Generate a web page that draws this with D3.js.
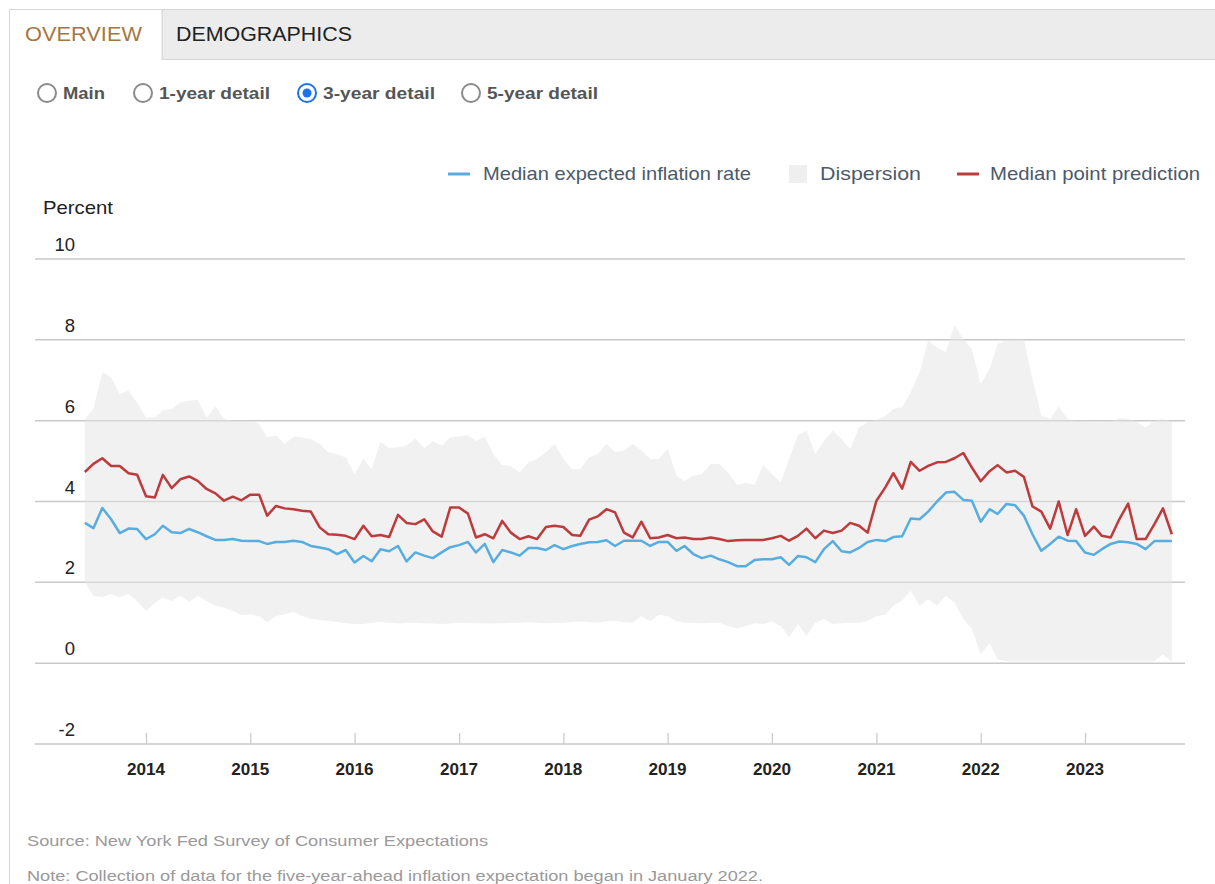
<!DOCTYPE html>
<html>
<head>
<meta charset="utf-8">
<script src="https://cdn.jsdelivr.net/npm/d3@7"></script>
<style>
  body { margin: 0; background: #fff; }
  svg { display: block; font-family: Arial, "Liberation Sans", sans-serif; }
</style>
</head>
<body>
<svg id="chart" width="1215" height="884"></svg>
<script>
// monthly survey, Jun 2013 .. Nov 2023
const startMonth = new Date(2013, 5, 1);

const medianExpected = [
  3.47, 3.34, 3.84, 3.56, 3.22, 3.33, 3.32, 3.07, 3.19, 3.40, 3.24, 3.22,
  3.32, 3.24, 3.14, 3.05, 3.05, 3.07, 3.03, 3.02, 3.02, 2.95, 3.00, 3.00,
  3.03, 3.00, 2.90, 2.86, 2.82, 2.70, 2.80, 2.49, 2.65, 2.52, 2.82, 2.77,
  2.90, 2.52, 2.74, 2.66, 2.60, 2.74, 2.87, 2.92, 3.00, 2.74, 2.95, 2.50,
  2.80, 2.74, 2.66, 2.85, 2.85, 2.80, 2.92, 2.82, 2.90, 2.95, 2.99, 3.00,
  3.04, 2.90, 3.03, 3.03, 3.03, 2.90, 3.00, 3.00, 2.78, 2.90, 2.70, 2.60,
  2.66, 2.57, 2.50, 2.40, 2.40, 2.55, 2.57, 2.57, 2.62, 2.43, 2.65, 2.62,
  2.50, 2.82, 3.02, 2.77, 2.74, 2.85, 3.00, 3.05, 3.02, 3.12, 3.14, 3.58,
  3.56, 3.75, 4.00, 4.22, 4.24, 4.04, 4.02, 3.50, 3.81, 3.69, 3.94, 3.91,
  3.65, 3.19, 2.78, 2.95, 3.13, 3.03, 3.02, 2.74, 2.68, 2.82, 2.95, 3.01,
  2.99, 2.95, 2.82, 3.02, 3.02, 3.02
];

const medianPoint = [
  4.73, 4.93, 5.07, 4.88, 4.88, 4.70, 4.66, 4.13, 4.10, 4.66, 4.33, 4.55,
  4.62, 4.51, 4.31, 4.20, 4.02, 4.12, 4.03, 4.17, 4.17, 3.65, 3.89, 3.83,
  3.81, 3.77, 3.75, 3.36, 3.19, 3.18, 3.15, 3.07, 3.40, 3.14, 3.17, 3.12,
  3.67, 3.47, 3.44, 3.56, 3.26, 3.13, 3.85, 3.85, 3.70, 3.11, 3.19, 3.09,
  3.52, 3.23, 3.07, 3.14, 3.07, 3.37, 3.40, 3.37, 3.17, 3.15, 3.55, 3.63,
  3.81, 3.73, 3.23, 3.11, 3.50, 3.09, 3.11, 3.17, 3.09, 3.11, 3.07, 3.07,
  3.11, 3.07, 3.02, 3.04, 3.05, 3.05, 3.05, 3.09, 3.15, 3.03, 3.15, 3.33,
  3.09, 3.28, 3.22, 3.28, 3.47, 3.40, 3.23, 4.02, 4.35, 4.70, 4.32, 4.98,
  4.76, 4.88, 4.97, 4.98, 5.07, 5.20, 4.84, 4.50, 4.75, 4.90, 4.72, 4.76,
  4.61, 3.88, 3.75, 3.33, 4.00, 3.17, 3.81, 3.15, 3.38, 3.15, 3.11, 3.56,
  3.95, 3.07, 3.07, 3.44, 3.83, 3.19
];

const dispersionHigh = [
  6.04, 6.29, 7.20, 7.07, 6.66, 6.74, 6.45, 6.08, 6.08, 6.25, 6.29, 6.45,
  6.49, 6.52, 6.08, 6.35, 6.04, 6.00, 6.00, 6.00, 5.92, 5.59, 5.64, 5.42,
  5.61, 5.59, 5.54, 5.42, 5.22, 5.17, 5.09, 4.68, 5.05, 4.80, 5.48, 5.32,
  5.34, 5.38, 5.56, 5.31, 5.50, 5.38, 5.59, 5.61, 5.64, 5.50, 5.61, 5.17,
  4.90, 4.88, 4.72, 4.97, 5.05, 5.22, 5.42, 5.05, 4.80, 4.80, 5.09, 5.17,
  5.42, 5.22, 5.26, 5.42, 5.26, 5.05, 5.05, 5.31, 4.64, 4.51, 4.64, 4.68,
  4.93, 4.93, 4.72, 4.41, 4.46, 4.41, 4.90, 4.68, 4.47, 5.05, 5.64, 5.75,
  5.17, 5.50, 5.75, 5.54, 5.30, 5.83, 5.96, 6.02, 6.11, 6.29, 6.33, 6.70,
  7.20, 7.98, 7.81, 7.69, 8.37, 8.02, 7.77, 6.91, 7.28, 7.90, 7.98, 8.00,
  8.00, 7.03, 6.12, 6.04, 6.35, 6.04, 6.00, 6.00, 5.96, 5.96, 5.98, 6.06,
  6.04, 5.98, 5.83, 6.00, 6.04, 5.98
];

const dispersionLow = [
  2.00, 1.67, 1.63, 1.71, 1.63, 1.71, 1.54, 1.29, 1.49, 1.63, 1.54, 1.67,
  1.52, 1.67, 1.54, 1.42, 1.38, 1.29, 1.19, 1.21, 1.16, 1.02, 1.17, 1.21,
  1.27, 1.17, 1.10, 1.07, 1.05, 1.02, 0.99, 0.97, 0.97, 1.00, 1.02, 1.00,
  0.98, 1.00, 1.00, 0.99, 0.98, 0.97, 0.98, 1.00, 1.00, 0.99, 0.98, 0.98,
  0.99, 1.00, 1.00, 1.01, 1.00, 0.99, 1.00, 1.00, 1.02, 1.03, 1.02, 1.00,
  1.04, 1.05, 1.02, 1.00, 1.17, 1.04, 1.19, 1.17, 1.04, 1.00, 1.00, 0.99,
  1.00, 1.00, 0.92, 0.86, 0.92, 0.99, 0.97, 1.04, 0.92, 0.64, 0.97, 0.68,
  1.00, 1.09, 0.97, 0.99, 1.00, 1.00, 1.05, 1.16, 1.21, 1.42, 1.55, 1.79,
  1.42, 1.58, 1.42, 1.67, 1.50, 1.10, 0.85, 0.22, 0.50, 0.10, 0.05, 0.05,
  0.05, 0.05, 0.05, 0.05, 0.05, 0.05, 0.05, 0.05, 0.05, 0.05, 0.05, 0.05,
  0.05, 0.05, 0.05, 0.05, 0.22, 0.03
];

const yTicks = [-2, 0, 2, 4, 6, 8, 10];
const yearTicks = [2014, 2015, 2016, 2017, 2018, 2019, 2020, 2021, 2022, 2023];
const radioLabels = ["Main", "1-year detail", "3-year detail", "5-year detail"];
const selectedRadio = "3-year detail";
const tabLabels = ["OVERVIEW", "DEMOGRAPHICS"];

const blue = "#58ade0";
const red = "#bd3b3c";

const data = medianExpected.map((v, i) => ({
  date: d3.timeMonth.offset(startMonth, i),
  expected: v,
  point: medianPoint[i],
  high: dispersionHigh[i],
  low: dispersionLow[i]
}));

const svg = d3.select("#chart");

// stretch text to the width it takes in the original page
function fit(sel, w) {
  sel.attr("textLength", w).attr("lengthAdjust", "spacingAndGlyphs");
  return sel;
}

// --- tabs
svg.append("line")
  .attr("x1", 9.5).attr("x2", 9.5).attr("y1", 9).attr("y2", 884)
  .attr("stroke", "#d6d6d6");
svg.append("rect")
  .attr("x", 162).attr("y", 9.5).attr("width", 1060).attr("height", 50)
  .attr("fill", "#ececec").attr("stroke", "#d6d6d6");
svg.append("path")
  .attr("d", "M9.5,60 L9.5,9.5 L162,9.5 L162,60")
  .attr("fill", "#fff").attr("stroke", "#d6d6d6");
fit(svg.append("text")
  .attr("x", 25).attr("y", 41)
  .attr("font-size", 20).attr("fill", "#a5773f")
  .text(tabLabels[0]), 117);
fit(svg.append("text")
  .attr("x", 176).attr("y", 41)
  .attr("font-size", 20).attr("fill", "#222")
  .text(tabLabels[1]), 176);

// --- radio buttons
const radioX = [47, 143, 307, 471];
const radioW = [42, 111, 112, 111];
const radio = svg.append("g").selectAll("g")
  .data(radioLabels)
  .join("g")
  .attr("transform", (d, i) => `translate(${radioX[i]},93)`);
radio.append("circle")
  .attr("r", 9)
  .attr("fill", "#fff")
  .attr("stroke", d => d === selectedRadio ? "#1a73e8" : "#8a8a8a")
  .attr("stroke-width", 2);
radio.filter(d => d === selectedRadio).append("circle")
  .attr("r", 4.5).attr("fill", "#1a73e8");
radio.append("text")
  .attr("x", 16).attr("y", 6)
  .attr("font-size", 16.5).attr("font-weight", "bold").attr("fill", "#555")
  .attr("textLength", (d, i) => radioW[i])
  .attr("lengthAdjust", "spacingAndGlyphs")
  .text(d => d);

// --- scales
const x = d3.scaleTime()
  .domain([new Date(2014, 0, 1), new Date(2023, 0, 1)])
  .range([146, 1085]);
const y = d3.scaleLinear().domain([-2, 10]).range([744, 259]);
const gridLeft = 35, gridRight = 1185;

// grid lines
svg.append("g")
  .selectAll("line")
  .data(yTicks)
  .join("line")
  .attr("x1", gridLeft).attr("x2", gridRight)
  .attr("y1", d => y(d)).attr("y2", d => y(d))
  .attr("stroke", "#c9c9c9").attr("stroke-width", 1.5);

svg.append("g")
  .selectAll("text")
  .data(yTicks)
  .join("text")
  .attr("x", 75).attr("y", d => y(d) - 8)
  .attr("text-anchor", "end")
  .attr("font-size", 18.5).attr("fill", "#222")
  .text(d => d);

fit(svg.append("text")
  .attr("x", 43).attr("y", 214)
  .attr("font-size", 18.5).attr("fill", "#222")
  .text("Percent"), 70);

// dispersion band
const band = d3.area()
  .x(d => x(d.date))
  .y0(d => y(d.low))
  .y1(d => y(d.high));
svg.append("path")
  .datum(data)
  .attr("d", band)
  .attr("fill", "#e4e4e4")
  .attr("fill-opacity", 0.5);

// lines
const lineExpected = d3.line().x(d => x(d.date)).y(d => y(d.expected));
const linePoint = d3.line().x(d => x(d.date)).y(d => y(d.point));
svg.append("path")
  .datum(data)
  .attr("d", lineExpected)
  .attr("fill", "none").attr("stroke", blue).attr("stroke-width", 2.5)
  .attr("stroke-linejoin", "round");
svg.append("path")
  .datum(data)
  .attr("d", linePoint)
  .attr("fill", "none").attr("stroke", red).attr("stroke-width", 2.5)
  .attr("stroke-linejoin", "round");

// x axis
const xAxis = svg.append("g")
  .attr("transform", `translate(0,${y(-2)})`)
  .call(d3.axisTop(x)
    .tickValues(yearTicks.map(yr => new Date(yr, 0, 1)))
    .tickSize(11)
    .tickFormat(() => ""));
xAxis.select(".domain").remove();
xAxis.selectAll(".tick line").attr("stroke", "#c9c9c9").attr("stroke-width", 1.2);

svg.append("g")
  .selectAll("text")
  .data(yearTicks)
  .join("text")
  .attr("x", d => x(new Date(d, 0, 1)))
  .attr("y", 775)
  .attr("text-anchor", "middle")
  .attr("font-size", 16).attr("font-weight", "bold").attr("fill", "#222")
  .attr("textLength", 38).attr("lengthAdjust", "spacingAndGlyphs")
  .text(d => d);

// legend
const legend = svg.append("g").attr("font-size", 19).attr("fill", "#4b5a6b");
legend.append("line")
  .attr("x1", 448).attr("x2", 470).attr("y1", 174).attr("y2", 174)
  .attr("stroke", blue).attr("stroke-width", 3);
fit(legend.append("text").attr("x", 483).attr("y", 180).text("Median expected inflation rate"), 268);
legend.append("rect")
  .attr("x", 789).attr("y", 165).attr("width", 18).attr("height", 18)
  .attr("fill", "#efefef");
fit(legend.append("text").attr("x", 820).attr("y", 180).text("Dispersion"), 101);
legend.append("line")
  .attr("x1", 957).attr("x2", 979).attr("y1", 174).attr("y2", 174)
  .attr("stroke", red).attr("stroke-width", 3);
fit(legend.append("text").attr("x", 990).attr("y", 180).text("Median point prediction"), 210);

// notes
fit(svg.append("text")
  .attr("x", 27).attr("y", 846)
  .attr("font-size", 15.5).attr("fill", "#999")
  .text("Source: New York Fed Survey of Consumer Expectations"), 461);
fit(svg.append("text")
  .attr("x", 27).attr("y", 881)
  .attr("font-size", 15.5).attr("fill", "#999")
  .text("Note: Collection of data for the five-year-ahead inflation expectation began in January 2022."), 736);
</script>
</body>
</html>
